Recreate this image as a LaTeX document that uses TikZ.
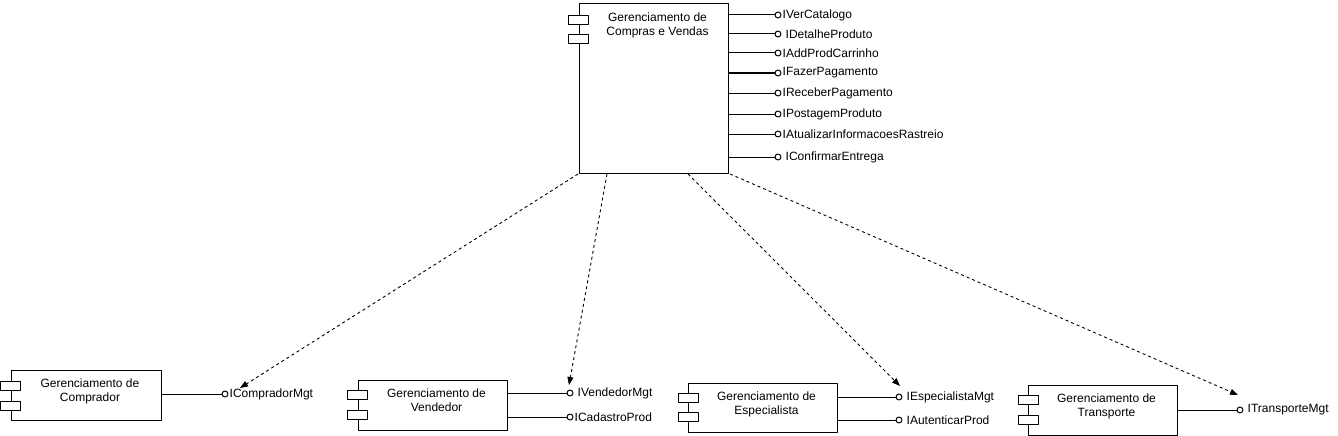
\documentclass[tikz,border=0pt]{standalone}
\usepackage{fontspec}
\setmainfont{Liberation Sans}
\usetikzlibrary{arrows.meta}
\usetikzlibrary{positioning}

\tikzset{
  comp/.style={draw,line width=1pt,minimum width=149pt,minimum height=50pt,inner sep=0pt},
  port/.style={draw,line width=1pt,fill=white,minimum width=20pt,minimum height=9pt,inner sep=0pt},
  ctext/.style={align=center,font=\fontsize{12}{14.5}\selectfont,inner sep=0pt,anchor=north},
  lolly/.style={draw,circle,line width=1pt,fill=white,minimum size=6pt,inner sep=0pt},
  iface/.style={font=\fontsize{12}{14}\selectfont,inner sep=1pt,anchor=west},
  gapped/.style={xshift=3pt},
  dep/.style={line width=0.9pt,dash pattern=on 3pt off 3pt,-{Triangle[length=8pt,width=6pt]}}
}

\begin{document}
\begin{tikzpicture}[x=1pt,y=-1pt,line join=round]
\useasboundingbox (0,0) rectangle (1338,436);
% componente principal
\node[comp,minimum height=169pt] (cv) at (653.5,88.5) {};
\node[port] (cvp1) at (578,20) {};
\node[port] (cvp2) at (578,39) {};
\node[ctext] (cvtext) at ([xshift=4pt,yshift=-9pt]cv.north) {Gerenciamento de\\Compras e Vendas};
\foreach \y/\name/\gap in {15/IVerCatalogo/0,34/IDetalheProduto/3,53/IAddProdCarrinho/0,73/IFazerPagamento/0,
  93/IReceberPagamento/0,114/IPostagemProduto/0,134/IAtualizarInformacoesRastreio/0,157/IConfirmarEntrega/3}
{
\node[lolly] (i\name) at (778,\y) {};
\draw[line width=1pt] (cv.east |- i\name) -- (i\name);
\node[iface,xshift=\gap pt] (l\name) at (i\name.east) {\name};
}
% comprador
\node[comp,minimum width=150pt] (comprador) at (86,395) {};
\node[port] (cp1) at (10,385.5) {};
\node[port] (cp2) at (10,405.5) {};
\node[ctext] (comprtext) at ([xshift=4pt,yshift=-9pt]comprador.north) {Gerenciamento de\\Comprador};
\node[lolly] (icomprador) at (225,394) {};
\draw[line width=1pt] (comprador.east |- icomprador) -- (icomprador);
\node[iface] (lcomprador) at (icomprador.east) {ICompradorMgt};
% vendedor
\node[comp] (vendedor) at (432.5,405) {};
\node[port] (vp1) at (357,395) {};
\node[port] (vp2) at (357,414.5) {};
\node[ctext] (vendtext) at ([xshift=4pt,yshift=-9pt]vendedor.north) {Gerenciamento de\\Vendedor};
\node[lolly] (ivendedor) at (570,393) {};
\node[lolly] (icadastro) at (570,417) {};
\draw[line width=1pt] (vendedor.east |- ivendedor) -- (ivendedor);
\draw[line width=1pt] (vendedor.east |- icadastro) -- (icadastro);
\node[iface,gapped] (lvendedor) at (ivendedor.east) {IVendedorMgt};
\node[iface] (lcadastro) at (icadastro.east) {ICadastroProd};
% especialista
\node[comp,minimum height=49pt] (especialista) at (762.5,407.5) {};
\node[port] (ep1) at (688,397.5) {};
\node[port] (ep2) at (688,417) {};
\node[ctext] (esptext) at ([xshift=4pt,yshift=-9pt]especialista.north) {Gerenciamento de\\Especialista};
\node[lolly] (iespecialista) at (899,397) {};
\node[lolly] (iautenticar) at (899,420) {};
\draw[line width=1pt] (especialista.east |- iespecialista) -- (iespecialista);
\draw[line width=1pt] (especialista.east |- iautenticar) -- (iautenticar);
\node[iface,gapped] (lespecialista) at (iespecialista.east) {IEspecialistaMgt};
\node[iface,gapped] (lautenticar) at (iautenticar.east) {IAutenticarProd};
% transporte
\node[comp] (transporte) at (1102.5,410) {};
\node[port] (tp1) at (1028,400) {};
\node[port] (tp2) at (1028,419.5) {};
\node[ctext] (transptext) at ([xshift=4pt,yshift=-9pt]transporte.north) {Gerenciamento de\\Transporte};
\node[lolly] (itransporte) at (1240,410) {};
\draw[line width=1pt] (transporte.east |- itransporte) -- (itransporte);
\node[iface,gapped] (ltransporte) at (itransporte.east) {ITransporteMgt};
% dependencias
\coordinate (d1) at (578,174);
\coordinate (d2) at (607,174);
\coordinate (d3) at (688,174);
\coordinate (d4) at (730,174);
\coordinate (e1) at (240,388);
\coordinate (e2) at (569,385);
\coordinate (e3) at (900,386);
\coordinate (e4) at (1238,395);
\draw[dep] (d1) -- (e1);
\draw[dep] (d2) -- (e2);
\draw[dep] (d3) -- (e3);
\draw[dep] (d4) -- (e4);
\end{tikzpicture}
\end{document}
